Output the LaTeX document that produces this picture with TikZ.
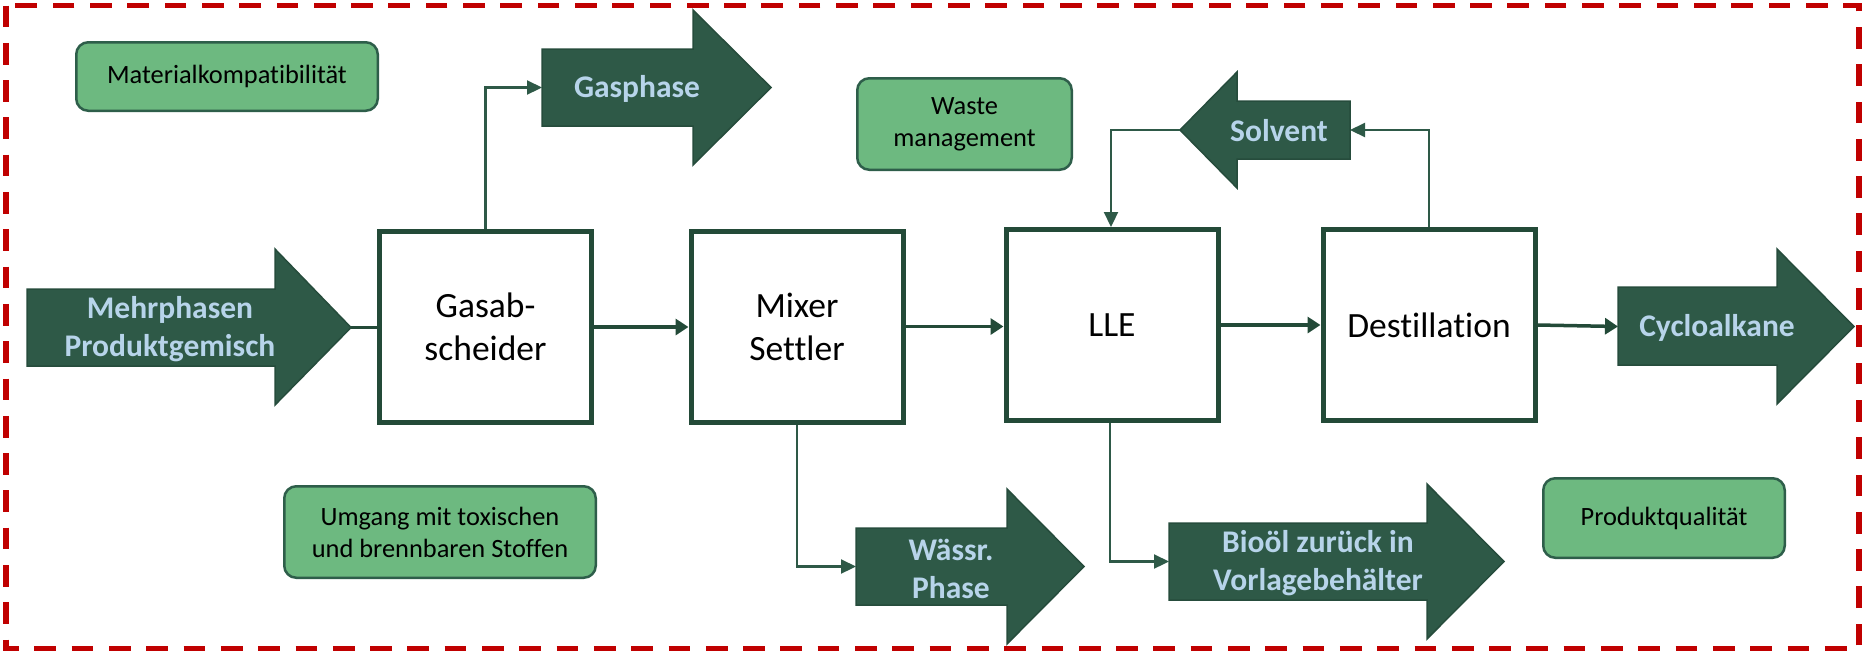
\documentclass[tikz,border=0pt]{standalone}
\usepackage{fontspec}
\setmainfont{Carlito}[Ligatures=NoCommon]
\usetikzlibrary{arrows.meta}
\definecolor{darkg}{HTML}{2E5947}
\definecolor{darkerg}{HTML}{264C3C}
\definecolor{boxborder}{HTML}{234A38}
\definecolor{lightg}{HTML}{6DB980}
\definecolor{lightgborder}{HTML}{2E5E4A}
\definecolor{labelblue}{HTML}{B7D4EA}
\definecolor{redline}{HTML}{C00000}
\tikzset{
  bigarrow/.style={fill=darkg, draw=darkerg, line width=0.75pt, line join=miter},
  arrowlabel/.style={text=labelblue, align=center, inner sep=0pt,
    font=\fontsize{15.75pt}{19pt}\selectfont\bfseries},
  procbox/.style={draw=boxborder, fill=white, line width=2.5pt, minimum width=106pt,
    minimum height=95.5pt, inner sep=0pt, align=center,
    font=\fontsize{17.75pt}{21.5pt}\selectfont},
  notebox/.style={draw=lightgborder, fill=lightg, line width=1.25pt, rounded corners=6pt,
    inner sep=0pt, align=center, font=\fontsize{13.2pt}{16pt}\selectfont},
  mainflow/.style={draw=boxborder, line width=1.75pt, -{Triangle[length=6.5pt,width=8pt]}},
  mainline/.style={draw=boxborder, line width=1.75pt},
  thinflow/.style={draw=darkg, line width=1.1pt, -{Triangle[length=7.5pt,width=7pt]}},
  redborder/.style={draw=redline, line width=2.75pt, dash pattern=on 10.85pt off 7.8pt}
}
\begin{document}
\begin{tikzpicture}[x=0.5pt,y=-0.5pt]
\useasboundingbox (0,0) rectangle (1865,655);
\fill[white] (0,0) rectangle (1865,655);

% red dashed frame
\draw[redborder] (6,5.5) rectangle (1859,648.5);

% note boxes
\node[notebox, minimum width=150.75pt, minimum height=34.25pt] (mat) at (227,76.5) {Materialkompatibilität};
\node[notebox, minimum width=107.25pt, minimum height=45.75pt] (waste) at (964.5,124) {Waste\\management};
\node[notebox, minimum width=155.75pt, minimum height=45.75pt] (umg) at (440,532) {Umgang mit toxischen\\und brennbaren Stoffen};
\node[notebox, minimum width=120.75pt, minimum height=39.75pt] (qual) at (1664,518) {Produktqualität};

% big block arrows
\filldraw[bigarrow] (27,289) -- (275,289) -- (275,249) -- (351,327.5) -- (275,405) -- (275,366) -- (27,366) -- cycle;
\filldraw[bigarrow] (542,49) -- (693,49) -- (693,10) -- (771,87.5) -- (693,165) -- (693,126) -- (542,126) -- cycle;
\filldraw[bigarrow] (1350,101) -- (1237,101) -- (1237,72) -- (1180,130) -- (1237,188) -- (1237,159) -- (1350,159) -- cycle;
\filldraw[bigarrow] (1618,287) -- (1777,287) -- (1777,249) -- (1854,326.5) -- (1777,404) -- (1777,365) -- (1618,365) -- cycle;
\filldraw[bigarrow] (856,528) -- (1007,528) -- (1007,489) -- (1084,566.5) -- (1007,644) -- (1007,605) -- (856,605) -- cycle;
\filldraw[bigarrow] (1169,523) -- (1427,523) -- (1427,484) -- (1504,561.5) -- (1427,639) -- (1427,600) -- (1169,600) -- cycle;

% arrow connection points
\coordinate (mehrTip) at (351,327.5);
\coordinate (gasIn) at (542,87.5);
\coordinate (solTip) at (1180,130);
\coordinate (solIn) at (1350,130);
\coordinate (cycIn) at (1618,326.5);
\coordinate (wasIn) at (856,566.5);
\coordinate (bioIn) at (1169,561.5);

% arrow labels
\node[arrowlabel] (lmehr) at (170,329) {Mehrphasen\\Produktgemisch};
\node[arrowlabel] (lgas) at (637,89) {Gasphase};
\node[arrowlabel] (lsol) at (1279,131) {Solvent};
\node[arrowlabel] (lcyc) at (1717,328) {Cycloalkane};
\node[arrowlabel] (lwas) at (951,569) {Wässr.\\Phase};
\node[arrowlabel] (lbio) at (1318,563) {Bioöl zurück in\\Vorlagebehälter};

% process boxes
\node[procbox] (gas) at (485.5,327) {Gasab-\\scheider};
\node[procbox] (mix) at (797,326.5) {Mixer\\Settler};
\node[procbox] (lle) at (1112,325) {LLE};
\node[procbox] (dest) at (1429,325) {Destillation};

% main flow
\draw[mainline] (mehrTip) -- (mehrTip -| gas.west);
\draw[mainflow] (gas.east) -- (gas.east -| mix.west);
\draw[mainflow] (mix.east) -- (mix.east -| lle.west);
\draw[mainflow] (lle.east) -- (dest.west);
\draw[mainflow] (dest.east) -- (cycIn);

% side streams
\draw[thinflow] (gas.north) |- (gasIn);
\draw[thinflow] (mix.south) |- (wasIn);
\draw[thinflow] ([xshift=-1pt]lle.south) |- (bioIn);
\draw[thinflow] (solTip) -| ([xshift=-0.5pt]lle.north);
\draw[thinflow] (dest.north) |- (solIn);
\end{tikzpicture}
\end{document}
